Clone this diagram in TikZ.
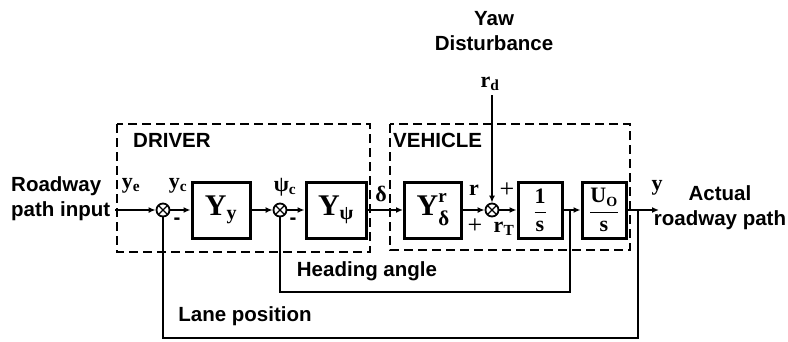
\documentclass[tikz,border=0pt]{standalone}
\usepackage{fontspec}
\setmainfont{Liberation Sans}
\newfontfamily\serf{Liberation Serif}
\usetikzlibrary{arrows.meta}
\tikzset{
  blk/.style={draw, line width=3pt, minimum height=56pt, inner sep=0pt,
              font=\fontsize{30}{32}\selectfont\serf\bfseries},
  sumj/.style={draw, circle, line width=1.8pt, minimum size=13pt, inner sep=0pt,
               path picture={\draw[line width=1.2pt]
                 (path picture bounding box.north west) -- (path picture bounding box.south east)
                 (path picture bounding box.north east) -- (path picture bounding box.south west);}},
  sig/.style={line width=2.8pt, -{Latex[length=7pt,width=6pt]}},
  wire/.style={line width=2.8pt},
  grp/.style={dash pattern=on 9pt off 5pt, line width=2.8pt},
  lbl/.style={font=\fontsize{20.5}{25}\selectfont\bfseries, inner sep=0pt},
  sigtxt/.style={font=\fontsize{22}{22}\selectfont\serf\bfseries, inner sep=0pt},
  plus/.style={font=\fontsize{26}{26}\selectfont\serf, inner sep=0pt},
}
\begin{document}
\begin{tikzpicture}[x=1pt, y=-1pt]
  \useasboundingbox (0,0) rectangle (788,341);
  \draw[grp] (117,124) rectangle (370,252);
  \draw[grp] (390,124) rectangle (630,250);
  \node[lbl, anchor=west] (drv) at (133,140) {DRIVER};
  \node[lbl, anchor=west] (veh) at (393,140) {VEHICLE};

  \node[sumj] (s1) at (163,210) {};
  \node[blk, minimum width=58pt] (yy) at (221,210) {Y$_{\mbox{\fontsize{20}{20}\serf\bfseries y}}$};
  \node[sumj] (s2) at (280,210) {};
  \node[blk, minimum width=60pt] (ypsi) at (336,210) {Y$_{\mbox{\fontsize{20}{20}\serf\bfseries ψ}}$};
  \node[blk, minimum width=57pt] (yd) at (433,210)
    {Y\rlap{\raisebox{13pt}{\fontsize{19}{19}\selectfont r}}\raisebox{-10pt}{\fontsize{21}{21}\selectfont δ}};
  \node[sumj] (s3) at (492,210) {};
  \node[blk, minimum width=44pt, font=\fontsize{22}{24}\selectfont\serf\bfseries] (integ) at (540,210)
    {$\displaystyle\frac{\mbox{1}}{\mbox{s}}$};
  \node[blk, minimum width=44pt, font=\fontsize{22}{24}\selectfont\serf\bfseries] (uo) at (604,210)
    {$\displaystyle\frac{\mbox{U$_{\mbox{\fontsize{14}{14}\serf\bfseries O}}$}}{\mbox{s}}$};
  \coordinate (inp) at (115,210);
  \coordinate (outp) at (659,210);
  \coordinate (tap1) at (570,210);
  \coordinate (tap2) at (638,210);
  \coordinate (dist) at (492,95);

  \draw[sig] (inp) -- (s1);
  \draw[sig] (s1) -- (yy);
  \draw[sig] (yy) -- (s2);
  \draw[sig] (s2) -- (ypsi);
  \draw[sig] (ypsi) -- (yd);
  \draw[sig] (yd) -- (s3);
  \draw[sig] (dist) -- (s3);
  \draw[sig] (s3) -- (integ);
  \draw[sig] (integ) -- (uo);
  \draw[sig] (uo) -- (outp);
  \draw[wire] (tap1) -- ++(0,82) -| (s2.south);
  \draw[wire] (tap2) -- ++(0,128) -| (s1.south);

  \node[lbl, anchor=west, align=left] (inlbl) at (11,199) {Roadway\\path input};
  \node[lbl, align=center] (outlbl) at (720,208) {Actual\\roadway path};
  \node[lbl, align=center] (yawlbl) at (494,31) {Yaw\\Disturbance};
  \node[lbl] (headlbl) at (367,271) {Heading angle};
  \node[lbl] (lanelbl) at (245,316) {Lane position};

  \node[sigtxt] (ye) at (131,186) {y\textsubscript{e}};
  \node[sigtxt] (yc) at (178,186) {y\textsubscript{c}};
  \node[sigtxt] (psic) at (285,187) {ψ\textsubscript{c}};
  \node[sigtxt] (del) at (381,194) {δ};
  \node[sigtxt] (rr) at (474,190) {r};
  \node[sigtxt] (rd) at (490,84) {r\textsubscript{d}};
  \node[sigtxt] (rt) at (504,229) {r\textsubscript{T}};
  \node[sigtxt] (yout) at (657,188) {y};
  \node[plus] (pa) at (507,190) {+};
  \node[plus] (pb) at (475,226) {+};
  \node[lbl] (ma) at (177,221) {-};
  \node[lbl] (mb) at (293,221) {-};
\end{tikzpicture}
\end{document}
